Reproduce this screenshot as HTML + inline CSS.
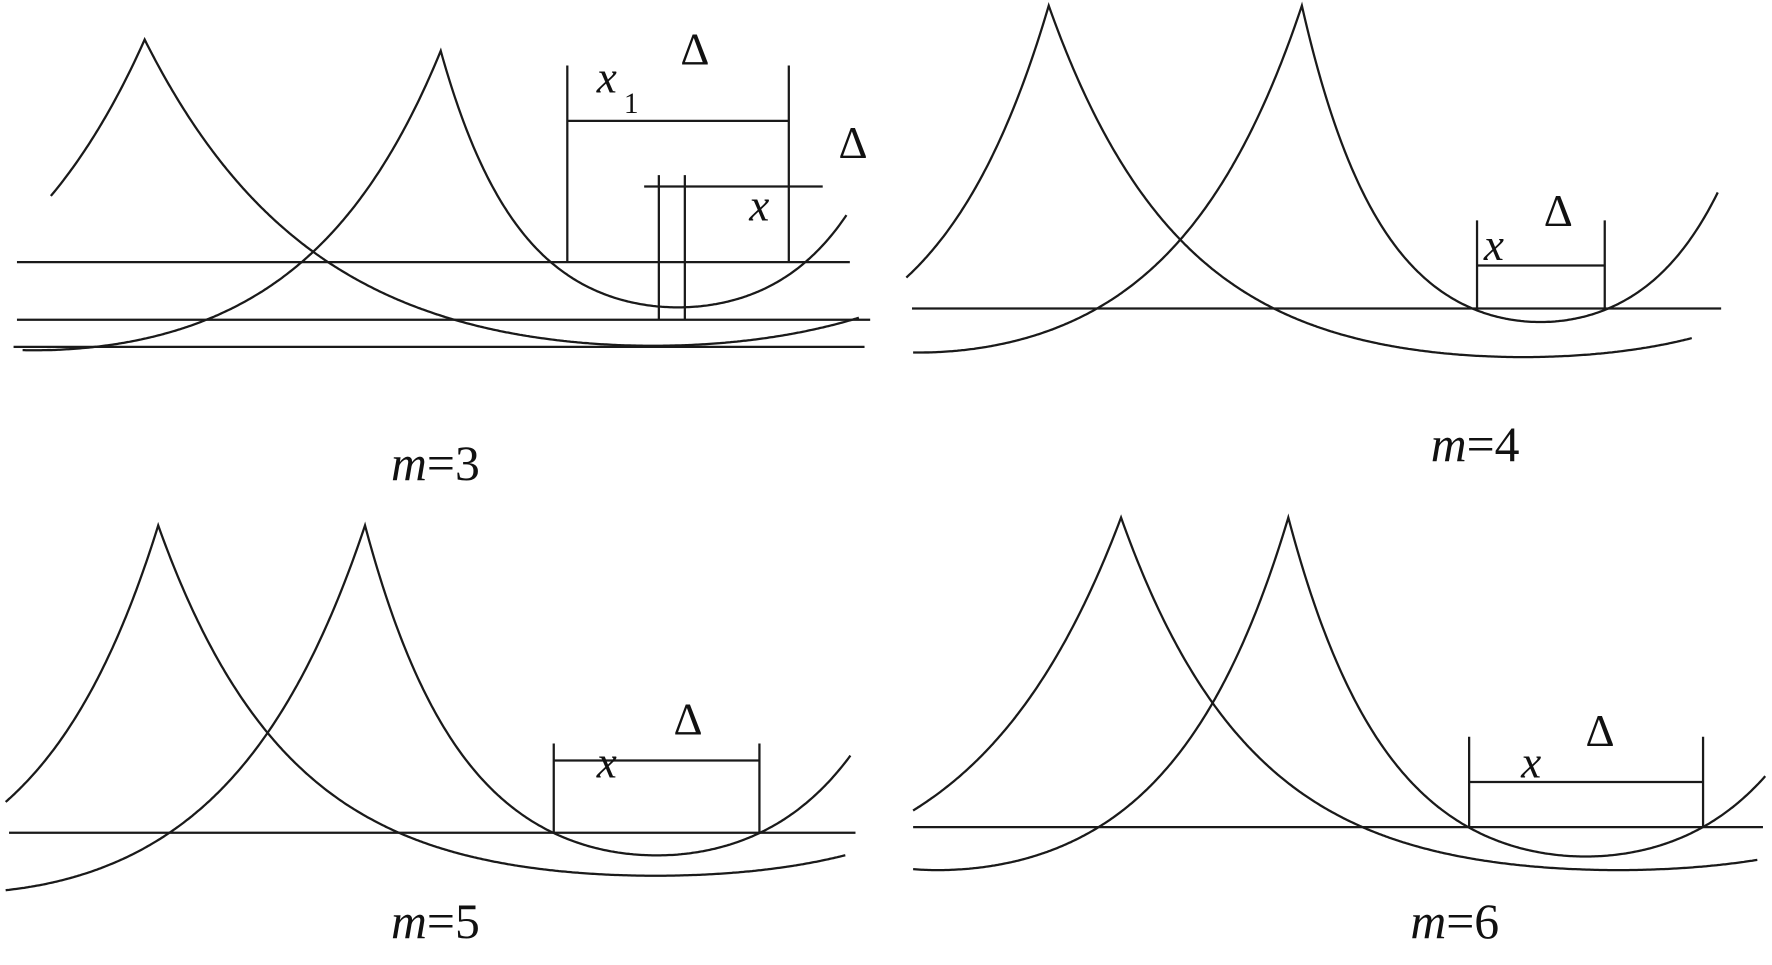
<!DOCTYPE html>
<html><head><meta charset="utf-8"><style>
html,body{margin:0;padding:0;background:#fff;}
svg{display:block;}
text{font-family:"Liberation Serif",serif;fill:#111;}
</style></head><body>
<svg id="s" width="1772" height="965" viewBox="0 0 1568 854" preserveAspectRatio="none" xmlns="http://www.w3.org/2000/svg">
<g id="g" fill="none" stroke="#1a1a1a" stroke-width="2">
<line x1="15" y1="232" x2="752" y2="232"/>
<line x1="15" y1="283" x2="770" y2="283"/>
<line x1="12" y1="307" x2="765" y2="307"/>
<line x1="502" y1="58" x2="502" y2="232"/>
<line x1="698" y1="58" x2="698" y2="232"/>
<line x1="502" y1="107" x2="698" y2="107"/>
<line x1="570" y1="165" x2="728" y2="165"/>
<line x1="583" y1="155" x2="583" y2="283"/>
<line x1="606" y1="155" x2="606" y2="283"/>
<line x1="807" y1="273" x2="1523" y2="273"/>
<line x1="1307" y1="195" x2="1307" y2="273"/>
<line x1="1420" y1="195" x2="1420" y2="273"/>
<line x1="1307" y1="235" x2="1420" y2="235"/>
<line x1="8" y1="737" x2="757" y2="737"/>
<line x1="490" y1="658" x2="490" y2="737"/>
<line x1="672" y1="658" x2="672" y2="737"/>
<line x1="490" y1="673" x2="672" y2="673"/>
<line x1="808" y1="732" x2="1560" y2="732"/>
<line x1="1300" y1="652" x2="1300" y2="732"/>
<line x1="1507" y1="652" x2="1507" y2="732"/>
<line x1="1300" y1="692" x2="1507" y2="692"/>
</g>
<g font-style="italic" font-size="40">
<text x="528" y="82">x</text><text x="552" y="100" font-size="26" font-style="normal">1</text>
<text x="663" y="195">x</text>
<text x="1313" y="230">x</text>
<text x="528" y="688">x</text>
<text x="1346" y="688">x</text>
</g>
<g font-size="40">
<text x="602" y="57">Δ</text>
<text x="742" y="140">Δ</text>
<text x="1366" y="200">Δ</text>
<text x="596" y="650">Δ</text>
<text x="1403" y="660">Δ</text>
</g>
<g font-size="44">
<text x="346" y="425"><tspan font-style="italic">m</tspan>=3</text>
<text x="1266" y="408"><tspan font-style="italic">m</tspan>=4</text>
<text x="346" y="830"><tspan font-style="italic">m</tspan>=5</text>
<text x="1248" y="830"><tspan font-style="italic">m</tspan>=6</text>
</g>
</svg>
<script>
(function(){
var g=document.getElementById('g');
function br(cy,W,B,d,K){K=K||3;var CK=Math.cosh(K)-1;d=d%(2*W);var f=(Math.cosh(K*(1-d/W))-1)/CK;return B-(B-cy)*f;}
function curve(cx,cy,xl,WL,BL,xr,WR,BR,KR){
 var pts=[];
 for(var x=xl;x<cx;x+=1.5){pts.push(x.toFixed(1)+','+br(cy,WL,BL,cx-x).toFixed(1));}
 pts.push(cx+','+cy);
 for(var x=cx+0.5;x<=xr;x+=1.5){pts.push(x.toFixed(1)+','+br(cy,WR,BR,x-cx,KR).toFixed(1));}
 var p=document.createElementNS('http://www.w3.org/2000/svg','polyline');
 p.setAttribute('points',pts.join(' '));g.appendChild(p);
}
curve(128,35,45,400,306,760,450,306);
curve(390,45,20,360,310,750,210,272);
curve(928,5,802,298,310,1497,420,316,3.6);
curve(1152,5,808,340,312,1520,211,285);
curve(140,465,5,319,775,748,440,775,3.8);
curve(323,465,5,360,790,753,258,757);
curve(992,458,808,389,770,1555,440,770,3.8);
curve(1140,458,808,310,770,1562,263,758);
})();
</script>
</body></html>
